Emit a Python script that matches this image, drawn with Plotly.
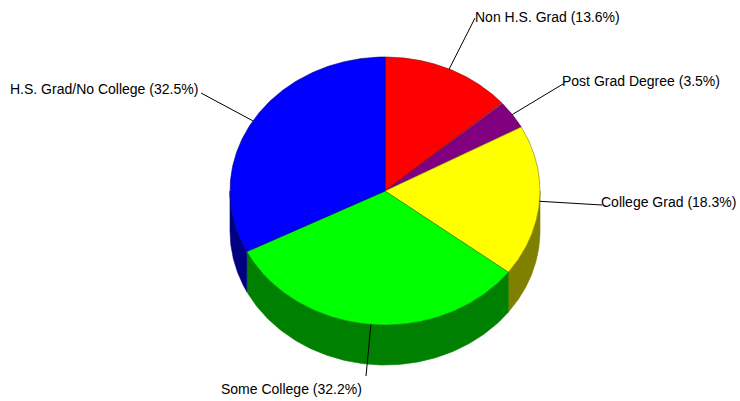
import numpy as np
import plotly.graph_objects as go

# ---- data ----
labels = ["Non H.S. Grad", "Post Grad Degree", "College Grad", "Some College", "H.S. Grad/No College"]
values = [13.6, 3.5, 18.3, 32.2, 32.5]
top_colors = ["#FF0000", "#800080", "#FFFF00", "#00FF00", "#0000FF"]
side_colors = ["#800000", "#400040", "#808000", "#008000", "#000080"]

# ---- layout (page-pixel coordinates) ----
W, H = 740, 401
cx, cy, rx, ry, depth = 385, 191, 155, 134, 40
label_pos = [(474, 17), (561, 81), (600, 202), (220, 389), (9, 89)]
label_size = [14, 14, 14, 14, 14]
line_end = [(475, 18), (563, 84), (602, 205), (366, 376), (201, 93)]

def pt(t, dy=0.0):
    return cx + rx * np.sin(t), cy - ry * np.cos(t) + dy

fig = go.Figure()
total = sum(values)
fr = np.cumsum([0] + values) / total
starts = fr[:-1] * 2 * np.pi
ends = fr[1:] * 2 * np.pi

# side walls (front half: pi/2 .. 3pi/2)
for s, e, c in zip(starts, ends, side_colors):
    a, b = max(s, np.pi / 2), min(e, 3 * np.pi / 2)
    if b <= a:
        continue
    t = np.linspace(a, b, 120)
    xt, yt = pt(t)
    xb, yb = pt(t[::-1], depth)
    xs = np.concatenate([xt, xb, xt[:1]])
    ys = np.concatenate([yt, yb, yt[:1]])
    fig.add_trace(go.Scatter(x=xs, y=ys, mode="lines", fill="toself", fillcolor=c,
                             line=dict(color=c, width=0.6), hoverinfo="skip", showlegend=False))

# top slices
for s, e, c, dc in zip(starts, ends, top_colors, side_colors):
    t = np.linspace(s, e, 200)
    xt, yt = pt(t)
    xs = np.concatenate([[cx], xt, [cx]])
    ys = np.concatenate([[cy], yt, [cy]])
    fig.add_trace(go.Scatter(x=xs, y=ys, mode="lines", fill="toself", fillcolor=c,
                             line=dict(color=dc, width=0.6), hoverinfo="skip", showlegend=False))

# leader lines and labels
mids = (starts + ends) / 2
for lab, v, m, (lx, ly), (ex, ey), fs in zip(labels, values, mids, label_pos, line_end, label_size):
    mx, my = pt(m)
    fig.add_trace(go.Scatter(x=[mx, ex], y=[my, ey], mode="lines",
                             line=dict(color="black", width=1), hoverinfo="skip", showlegend=False))
    fig.add_annotation(x=lx, y=ly, text=f"{lab} ({v}%)", showarrow=False,
                       xanchor="left", yanchor="middle", xref="x", yref="y", borderpad=0,
                       font=dict(family="Liberation Sans, Arial, sans-serif", size=fs, color="black"))

fig.update_layout(
    width=W, height=H, margin=dict(l=0, r=0, t=0, b=0),
    paper_bgcolor="white", plot_bgcolor="white",
    xaxis=dict(range=[0, W], visible=False, fixedrange=True),
    yaxis=dict(range=[H, 0], visible=False, fixedrange=True),
    showlegend=False,
)
fig.write_html("out.html", config={"displayModeBar": False},
               post_script="document.body.style.margin='0px';document.body.style.overflow='hidden';")
